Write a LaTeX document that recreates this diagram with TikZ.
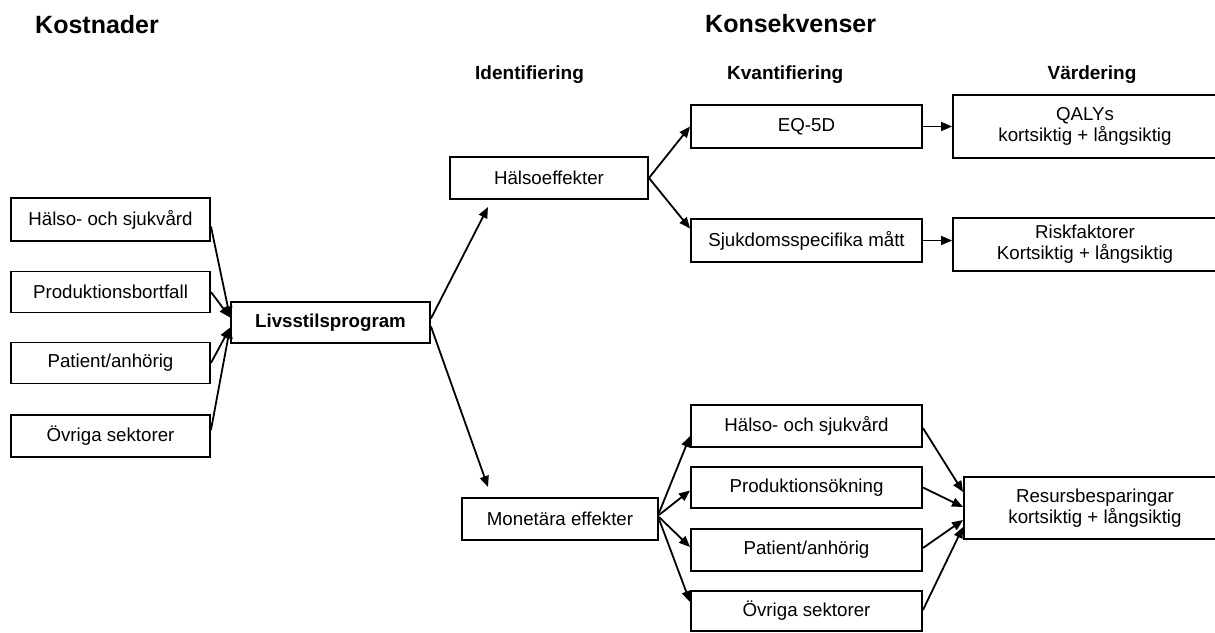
\documentclass[tikz,border=0pt]{standalone}
\usepackage{fontspec}
\setmainfont{Liberation Sans}
\usetikzlibrary{arrows.meta}
\begin{document}
\begin{tikzpicture}[x=1pt,y=-1pt,
  bodyfont/.style={font=\fontsize{18.7}{21}\selectfont},
  box/.style={draw, line width=1.9pt, inner sep=0pt, align=center, bodyfont},
  head/.style={font=\fontsize{25}{30}\selectfont\bfseries, inner sep=0pt},
  subhead/.style={font=\fontsize{19}{23}\selectfont\bfseries, inner sep=0pt},
  arr/.style={line width=1.8pt, -{Triangle[length=11pt,width=9pt]}}]
\useasboundingbox (0,0) rectangle (1215,632);
\clip (0,0) rectangle (1215,632);

% headings
\node[head, anchor=base west] (hK) at (35,33) {Kostnader};
\node[head, anchor=base west] (hC) at (705,32) {Konsekvenser};
\node[subhead, anchor=base west] (hI) at (475,79) {Identifiering};
\node[subhead, anchor=base west] (hQ) at (727,79) {Kvantifiering};
\node[subhead, anchor=base] (hV) at (1092,79) {Värdering};

% cost side
\node[box, minimum width=199pt, minimum height=43pt] (lk1) at (110.5,219.5) {Hälso- och sjukvård};
\node[box, minimum width=199pt, minimum height=41pt] (lk2) at (110.5,292) {Produktionsbortfall};
\node[box, minimum width=199pt, minimum height=41pt] (lk3) at (110.5,363) {Patient/anhörig};
\node[box, minimum width=199pt, minimum height=42pt] (lk4) at (110.5,436) {Övriga sektorer};
\node[box, font=\fontsize{18.7}{21}\selectfont\bfseries, minimum width=199pt, minimum height=41pt] (lp) at (330.5,322.5) {Livsstilsprogram};

% identification
\node[box, minimum width=198pt, minimum height=42pt] (he) at (549,178) {Hälsoeffekter};
\node[box, minimum width=196pt, minimum height=42pt] (me) at (560,519) {Monetära effekter};

% quantification
\node[box, minimum width=231pt, minimum height=43pt] (eq) at (806.5,126.5) {EQ-5D};
\node[box, minimum width=231pt, minimum height=43pt] (sj) at (806.5,240.5) {Sjukdomsspecifika mått};
\node[box, minimum width=231pt, minimum height=42pt] (m1) at (806.5,426) {Hälso- och sjukvård};
\node[box, minimum width=231pt, minimum height=41pt] (m2) at (806.5,487.5) {Produktionsökning};
\node[box, minimum width=231pt, minimum height=42pt] (m3) at (806.5,550) {Patient/anhörig};
\node[box, minimum width=231pt, minimum height=40pt] (m4) at (806.5,611) {Övriga sektorer};

% valuation
\node[box, minimum width=264pt, minimum height=63pt] (qa) at (1085,126.5) {QALYs\\kortsiktig + långsiktig};
\node[box, minimum width=264pt, minimum height=53pt] (rf) at (1085,244.5) {Riskfaktorer\\Kortsiktig + långsiktig};
\node[box, minimum width=262pt, minimum height=62pt] (rb) at (1095,508) {Resursbesparingar\\kortsiktig + långsiktig};

% free arrow ends below/above the identification boxes
\coordinate (heIn) at (488,207);
\coordinate (meIn) at (488,487);

% connectors
\draw[arr] ([yshift=-7pt]lk1.east) -- ([yshift=5pt]lp.west);
\draw[arr] (lk2.east) -- ([yshift=5pt]lp.west);
\draw[arr] (lk3.east) -- ([yshift=-5pt]lp.west);
\draw[arr] ([yshift=6pt]lk4.east) -- ([yshift=-5pt]lp.west);

\draw[arr] ([yshift=4pt]lp.east) -- (heIn);
\draw[arr] ([yshift=-4pt]lp.east) -- (meIn);

\draw[arr] (he.east) -- (eq.west);
\draw[arr] (he.east) -- ([yshift=12pt]sj.west);
\draw[arr] (eq.east) -- (qa.west);
\draw[arr] (sj.east) -- (sj.east -| rf.west);

\draw[arr] ([yshift=6pt]me.east) -- ([yshift=-10pt]m1.west);
\draw[arr] ([yshift=4pt]me.east) -- ([yshift=-3pt]m2.west);
\draw[arr] ([yshift=2pt]me.east) -- ([yshift=3pt]m3.west);
\draw[arr] (me.east) -- ([yshift=9pt]m4.west);

\draw[arr] ([yshift=-2pt]m1.east) -- ([yshift=16pt]rb.west);
\draw[arr] (m2.east) -- ([yshift=1pt]rb.west);
\draw[arr] ([yshift=2pt]m3.east) -- ([yshift=-12pt]rb.west);
\draw[arr] ([yshift=1pt]m4.east) -- ([yshift=-19pt]rb.west);
\end{tikzpicture}
\end{document}
